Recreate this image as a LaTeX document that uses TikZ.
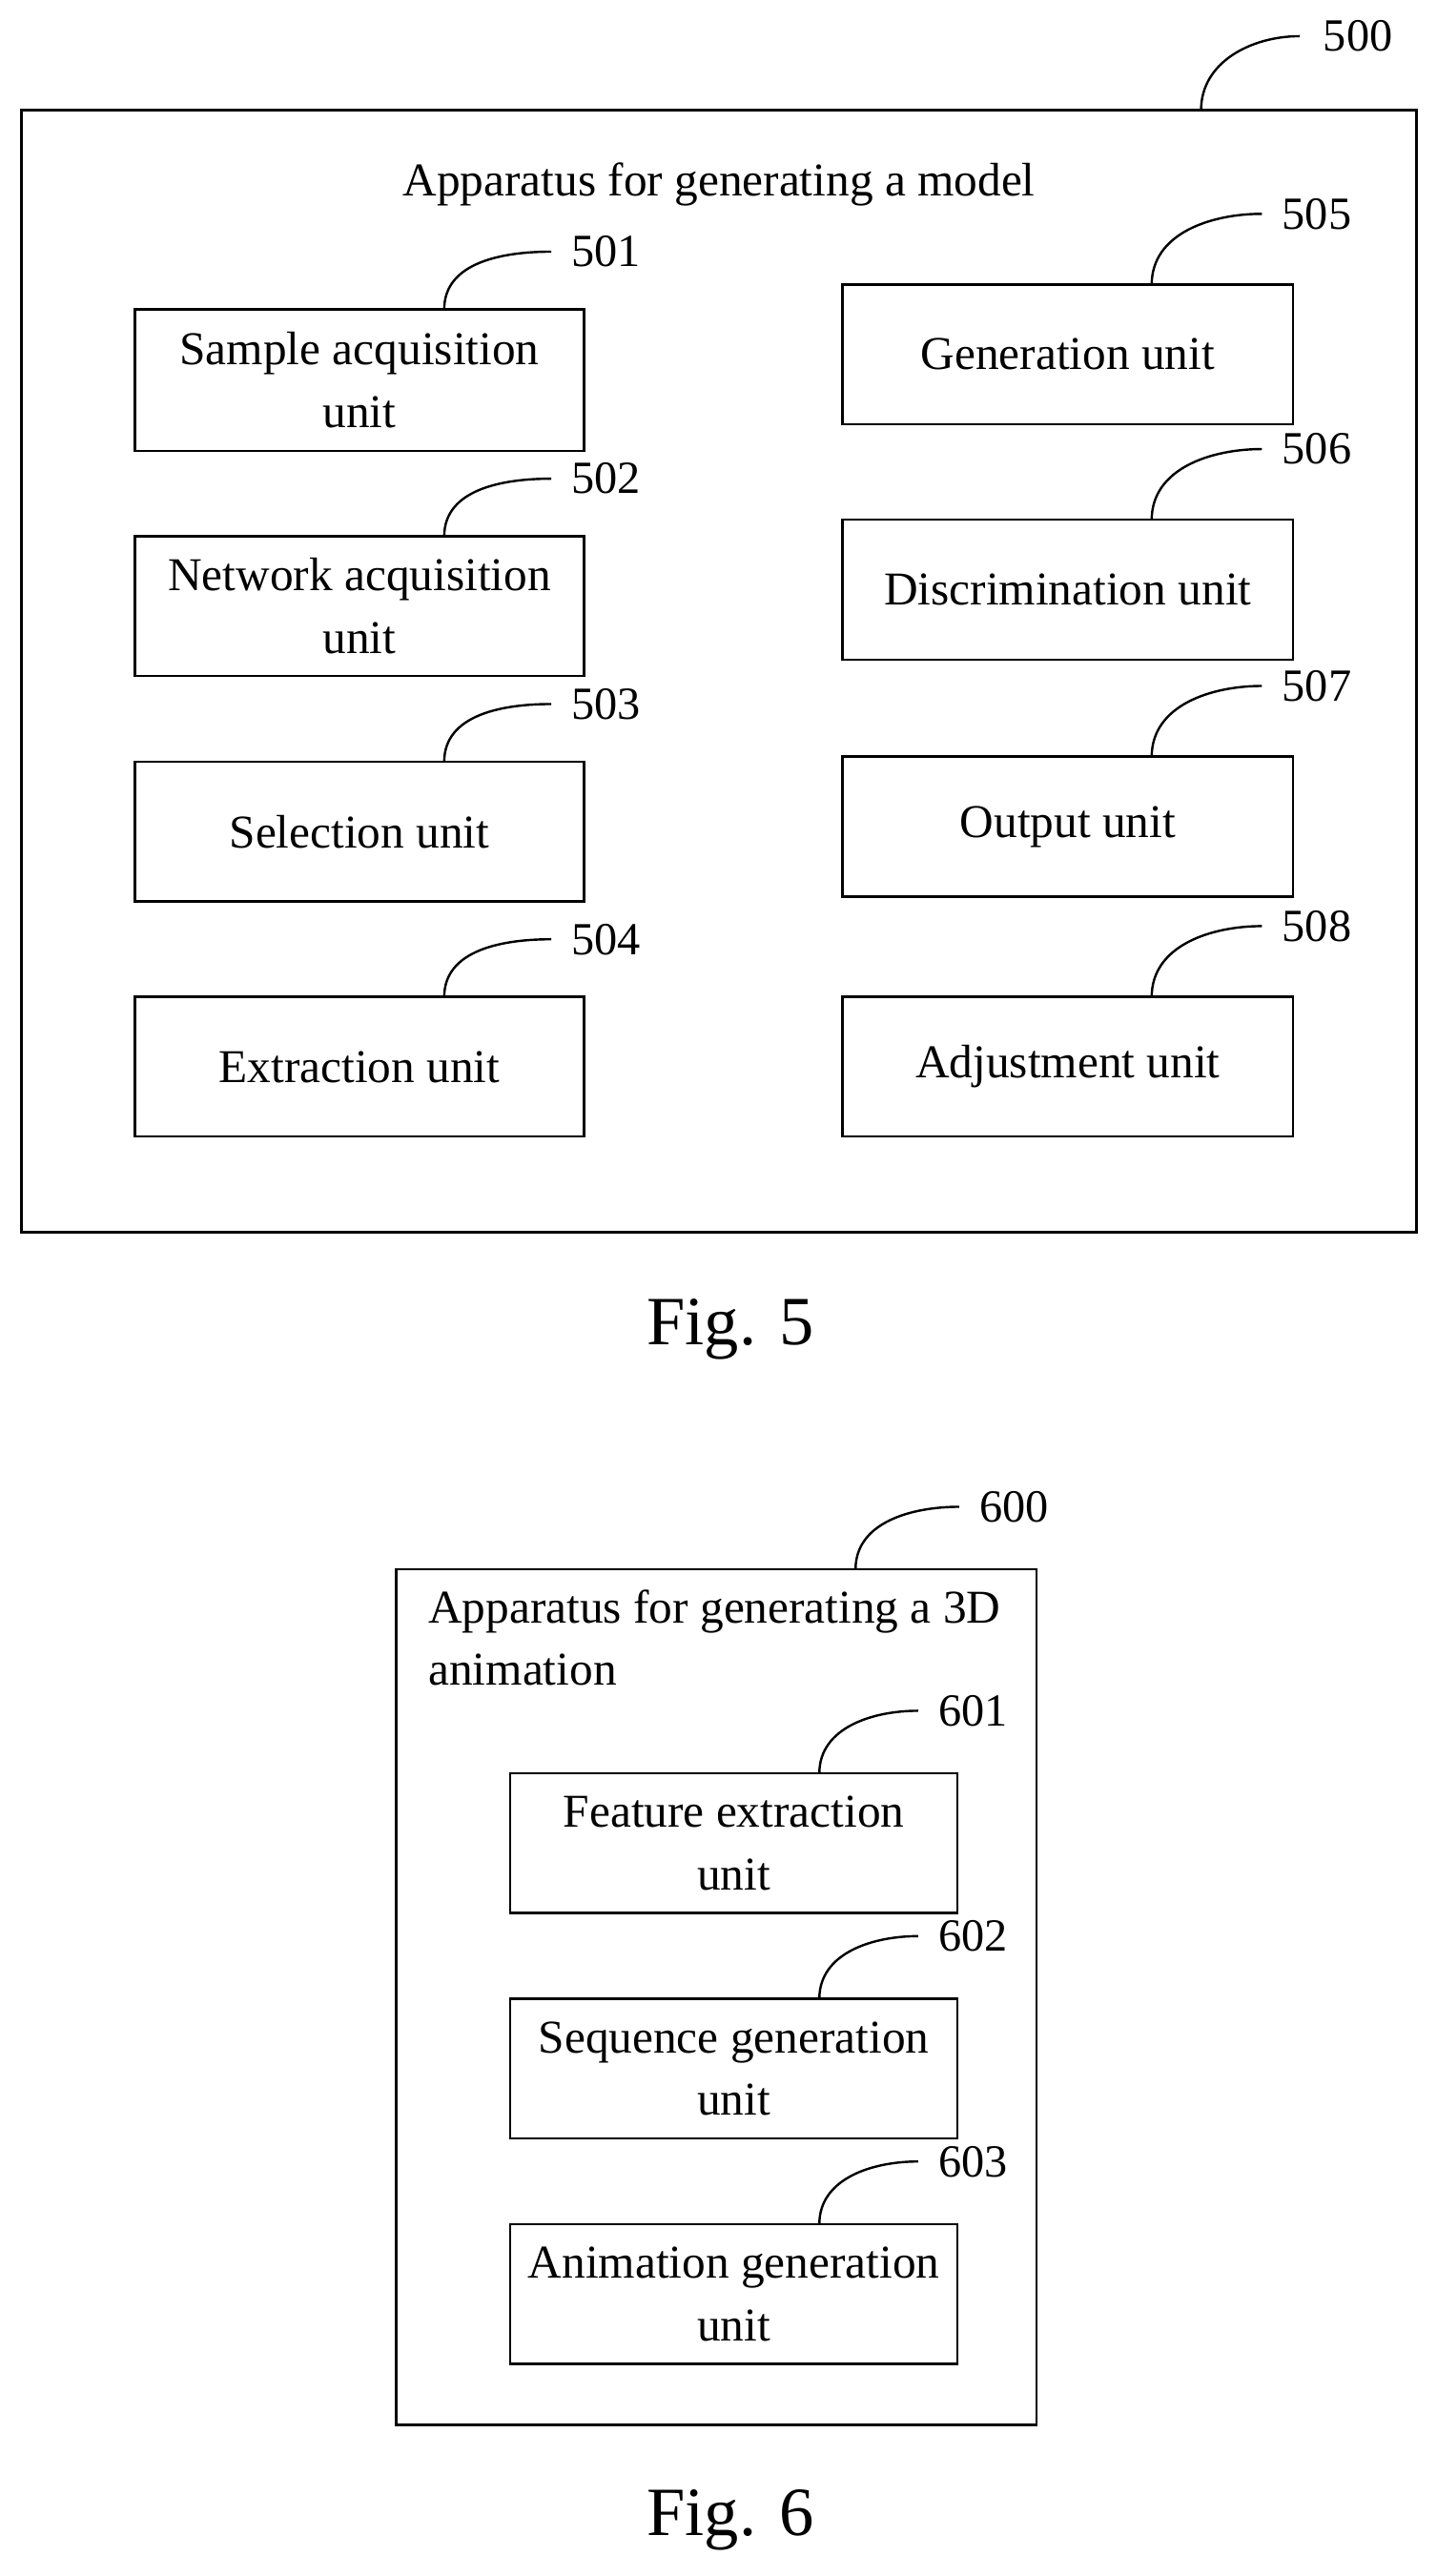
\documentclass[tikz,border=0pt]{standalone}
\usepackage{fontspec}
\setmainfont{Liberation Serif}
\begin{document}
\begin{tikzpicture}[x=0.5pt,y=-0.5pt,
  box/.style={draw,line width=0.7pt,inner sep=0pt,align=center,font=\fontsize{14.3}{19}\selectfont},
  lbl/.style={font=\fontsize{14}{15}\selectfont,anchor=west,inner sep=1pt},
  lead/.style={line width=0.7pt},
  fig/.style={font=\fontsize{21}{24}\selectfont}]
\useasboundingbox (0,0) rectangle (873,1566);
% Fig 5
\draw[line width=0.8pt] (13,67) rectangle (861,749);
\coordinate (c500) at (730,67);
\node[lbl] (l500) at (802,22) {500};
\draw[lead] (c500) to[out=90,in=180] ([xshift=-6pt]l500.west);
\node[font=\fontsize{14.3}{15}\selectfont] (t5) at (437,112) {Apparatus for generating a model};
\foreach \n/\yt/\yb/\txt in {501/188/274/{Sample acquisition\\unit},502/326/411/{Network acquisition\\unit},503/463/548/{Selection unit},504/606/691/{Extraction unit}}{
  \node[box,minimum width=136.5pt,minimum height={(\yb-\yt)*0.5pt}] (b\n) at (218.5,{(\yt+\yb)/2}) {\txt};
  \node[lbl] (l\n) at (345,{\yt-35}) {\n};
  \draw[lead] (270,\yt) to[out=90,in=180] ([xshift=-5pt]l\n.west);
}
\foreach \n/\yt/\yb/\txt in {505/173/258/{Generation unit},506/316/401/{Discrimination unit},507/460/545/{Output unit},508/606/691/{Adjustment unit}}{
  \node[box,minimum width=137pt,minimum height={(\yb-\yt)*0.5pt}] (b\n) at (649,{(\yt+\yb)/2}) {\txt};
  \node[lbl] (l\n) at (777,{\yt-43}) {\n};
  \draw[lead] (700,\yt) to[out=90,in=180] ([xshift=-5pt]l\n.west);
}
\node[fig] (f5) at (444,808) {Fig. 5};
% Fig 6
\draw[line width=0.8pt] (241,954) rectangle (630,1474);
\coordinate (c600) at (520,954);
\node[lbl] (l600) at (593,916) {600};
\draw[lead] (c600) to[out=90,in=180] ([xshift=-5pt]l600.west);
\node[anchor=north west,align=left,inner sep=0pt,font=\fontsize{14.3}{19}\selectfont] (t6) at (260,966) {Apparatus for generating a 3D\\animation};
\foreach \n/\yt/\yb/\txt in {601/1078/1163/{Feature extraction\\unit},602/1215/1300/{Sequence generation\\unit},603/1352/1437/{Animation generation\\unit}}{
  \node[box,minimum width=136pt,minimum height={(\yb-\yt)*0.5pt}] (b\n) at (446,{(\yt+\yb)/2}) {\txt};
  \node[lbl] (l\n) at (568,{\yt-38}) {\n};
  \draw[lead] (498,\yt) to[out=90,in=180] ([xshift=-5pt]l\n.west);
}
\node[fig] (f6) at (444,1532) {Fig. 6};
\end{tikzpicture}
\end{document}
